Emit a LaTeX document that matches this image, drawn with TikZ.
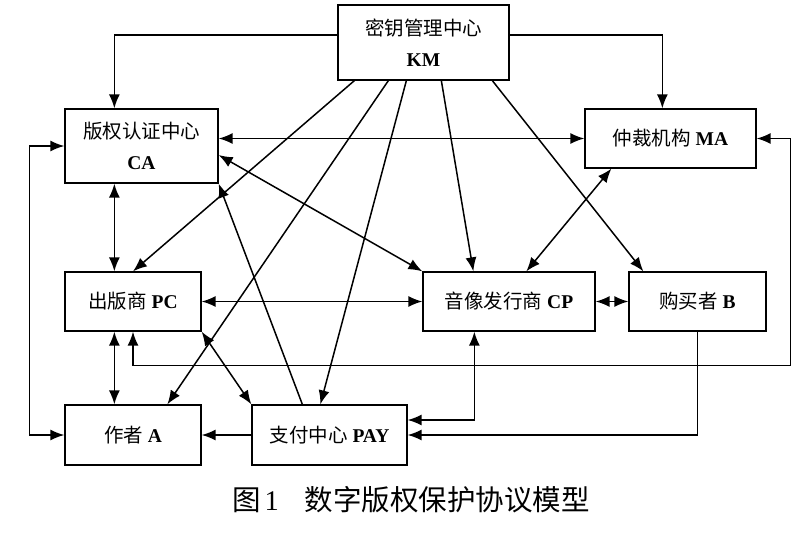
\documentclass[tikz,border=0pt]{standalone}
\usepackage{fontspec}
\setmainfont{Liberation Serif}
\newfontfamily\cjk{Noto Sans CJK SC}
\usetikzlibrary{arrows.meta}
\begin{document}
\begin{tikzpicture}[x=1pt,y=-1pt,
  box/.style={draw, line width=1.3pt, rectangle, inner sep=0pt, align=center,
    font=\fontsize{19.5}{31}\selectfont},
  con/.style={line width=1.5pt},
  tip/.tip={Latex[length=14pt,width=11pt]},
  arr/.style={con, -tip},
  arrb/.style={con, tip-tip},
]
\useasboundingbox (0,0) rectangle (800,535);
% boxes
\node[box, minimum width=171pt, minimum height=75pt] (KM) at (423.5,42.5)
  {{\cjk 密钥管理中心}\\\textbf{KM}};
\node[box, minimum width=153pt, minimum height=74pt] (CA) at (141.5,146)
  {{\cjk 版权认证中心}\\\textbf{CA}};
\node[box, minimum width=171pt, minimum height=59pt] (MA) at (670.5,138.5)
  {{\cjk 仲裁机构} \textbf{MA}};
\node[box, minimum width=136pt, minimum height=59pt] (PC) at (133,301.5)
  {{\cjk 出版商} \textbf{PC}};
\node[box, minimum width=172pt, minimum height=59pt] (CP) at (509,301.5)
  {{\cjk 音像发行商} \textbf{CP}};
\node[box, minimum width=137pt, minimum height=59pt] (B) at (697.5,301.5)
  {{\cjk 购买者} \textbf{B}};
\node[box, minimum width=136pt, minimum height=60pt] (A) at (133,435)
  {{\cjk 作者} \textbf{A}};
\node[box, minimum width=155pt, minimum height=60pt] (PAY) at (329.5,435)
  {{\cjk 支付中心} \textbf{PAY}};
% caption
\node[anchor=west, inner sep=0pt, font=\fontsize{28.5}{28.5}\selectfont] (cap) at (232,500)
  {{\cjk 图}\hspace{4pt}1\hspace{26pt}{\cjk 数字版权保护协议模型}};
% connectors
\draw[arr] ([yshift=7.5]KM.west) -| ([xshift=50]CA.north west);
\draw[arr] ([yshift=7.5]KM.east) -| ([xshift=78]MA.north west);
\draw[arrb] (CA.east |- MA.west) -- (MA.west);
\draw[arrb] ([yshift=-9]CA.east) -- (CP.north west);
\draw[arrb] ([xshift=50]CA.south west) -- ([xshift=50]PC.north west);
\draw[arr] ([xshift=17]KM.south west) -- (PC.north);
\draw[arr] ([xshift=51]KM.south west) -- ([xshift=103]A.north west);
\draw[arr] ([xshift=69]KM.south west) -- ([xshift=69]PAY.north west);
\draw[arr] ([xshift=104]KM.south west) -- ([xshift=51]CP.north west);
\draw[arr] ([xshift=155]KM.south west) -- ([xshift=15]B.north west);
\draw[arrb] ([xshift=27]MA.south west) -- ([xshift=104]CP.north west);
\draw[arr] ([xshift=51]PAY.north west) -- (CA.south east);
\draw[arrb] (PC.east) -- (CP.west);
\draw[arrb] (CP.east) -- (B.west);
\draw[arrb] ([xshift=50]PC.south west) -- ([xshift=50]A.north west);
\draw[arrb] (PC.south east) -- (PAY.north west);
\draw[arr] (PAY.west) -- (A.east);
\draw[arrb] (PC.south) -- ++(0,34) -| ([xshift=34]MA.east) -- (MA.east);
\draw[arrb] (CA.west) -- ++(-35,0) |- (A.west);
\draw[arrb] ([xshift=52]CP.south west) |- ([yshift=15]PAY.east);
\draw[arr] (B.south) |- (PAY.east);
\end{tikzpicture}
\end{document}
